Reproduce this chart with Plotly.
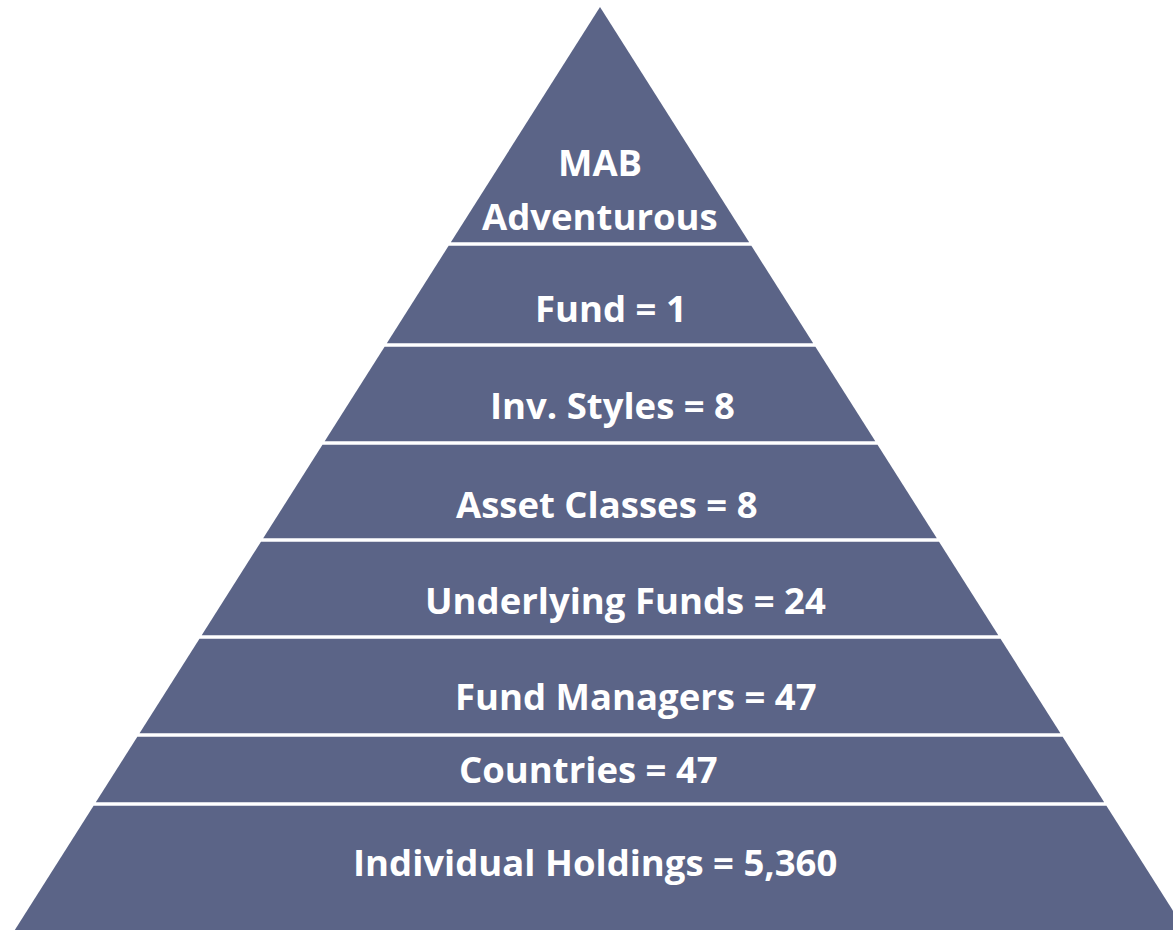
import plotly.graph_objects as go

# Pyramid layers, top to bottom
labels = [
    "MAB<br>Adventurous",
    "Fund = 1",
    "Inv. Styles = 8",
    "Asset Classes = 8",
    "Underlying Funds = 24",
    "Fund Managers = 47",
    "Countries = 47",
    "Individual Holdings = 5,360",
]
# Layer boundaries (depth from the top of the canvas)
edges = [7, 244, 345, 443, 540, 637, 735, 804, 950]

FILL = "#5B6487"
APEX_X = 600
SLOPE = 0.634  # half-width per unit of depth
GAP = 3.5
LINE_STEP = 54
W, H = 1173, 930
# small nudges so labels sit like in the original slide
label_dx = [0, 11, 12, 7, 25, 36, -12, -5]
label_dy = [63, 13, 11, 12, 11, 10, -1, -5]


def half(y):
    return SLOPE * (y - edges[0])


fig = go.Figure()
for i, lab in enumerate(labels):
    y0 = edges[i] + (GAP / 2 if i > 0 else 0)
    y1 = edges[i + 1] - GAP / 2
    xs = [APEX_X - half(y0), APEX_X + half(y0), APEX_X + half(y1), APEX_X - half(y1), APEX_X - half(y0)]
    ys = [y0, y0, y1, y1, y0]
    fig.add_trace(
        go.Scatter(
            x=xs, y=ys, fill="toself", mode="lines",
            fillcolor=FILL, line=dict(width=0), hoverinfo="skip", showlegend=False,
        )
    )
    mid = (edges[i] + min(edges[i + 1], H)) / 2 + label_dy[i]
    lines = lab.split("<br>")
    for k, part in enumerate(lines):
        fig.add_annotation(
            x=APEX_X + label_dx[i],
            y=mid + (k - (len(lines) - 1) / 2) * LINE_STEP,
            text=f"<b>{part}</b>",
            showarrow=False, xanchor="center", yanchor="middle",
            font=dict(family="Open Sans", size=36.5, color="white"),
        )

fig.update_layout(
    width=W,
    height=H,
    margin=dict(l=0, r=0, t=0, b=0),
    plot_bgcolor="white",
    paper_bgcolor="white",
    xaxis=dict(range=[0, W], visible=False, fixedrange=True),
    yaxis=dict(range=[H, 0], visible=False, fixedrange=True),
)
# drop the page's default body margin so the figure fills the window exactly
fig.write_html(
    "out.html",
    config={"displayModeBar": False},
    post_script="document.body.style.margin='0';document.body.style.overflow='hidden';",
)
